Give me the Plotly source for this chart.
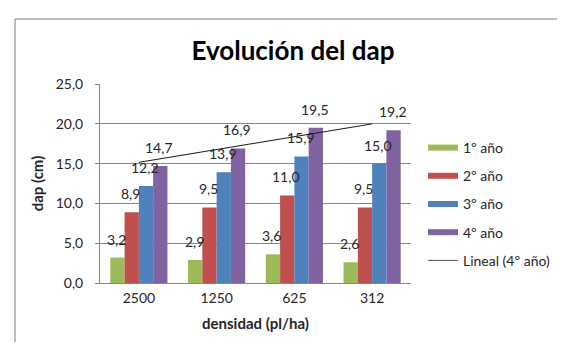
import numpy as np
import plotly.graph_objects as go

categories = ["2500", "1250", "625", "312"]
series_names = ["1º año", "2º año", "3º año", "4º año"]
year1 = [3.2, 2.9, 3.6, 2.6]
year2 = [8.9, 9.5, 11.0, 9.5]
year3 = [12.2, 13.9, 15.9, 15.0]
year4 = [14.7, 16.9, 19.5, 19.2]
y_ticks = [0, 5, 10, 15, 20, 25]
colors = ["#9BBB59", "#C0504D", "#4F81BD", "#8064A2"]

W, H = 565, 342
ML, MR, MT, MB = 92, 162, 76, 67
plot_w = W - ML - MR
plot_h = H - MT - MB
BARGAP = 0.265

FONT = "Lato, 'Open Sans', sans-serif"
TXT = "#262626"

all_series = [year1, year2, year3, year4]
fig = go.Figure()

for name, vals, col in zip(series_names, all_series, colors):
    fig.add_trace(go.Bar(x=categories, y=vals, name=name, marker=dict(color=col, line=dict(width=0)),
                         showlegend=False, hoverinfo="y"))

# linear trend of 4th year
xi = np.arange(1, len(categories) + 1)
slope, intercept = np.polyfit(xi, year4, 1)
trend = slope * xi + intercept
fig.add_trace(go.Scatter(x=[categories[0], categories[-1]], y=[trend[0], trend[-1]], mode="lines",
                         line=dict(color="#1a1a1a", width=1), showlegend=False, hoverinfo="skip"))

# legend-only entries
for i, (name, col) in enumerate(zip(series_names, colors)):
    fig.add_trace(go.Scatter(x=[categories[0]], y=[None], mode="lines", name=name,
                             line=dict(color=col, width=6), legendgroup=f"g{i}"))
fig.add_trace(go.Scatter(x=[categories[0]], y=[None], mode="lines", name="Lineal (4º año)",
                         line=dict(color="#555555", width=1), legendgroup="g4"))

# data labels
cat_w = plot_w / len(categories)
bar_w = (1 - BARGAP) * cat_w / len(all_series)
annotations = []
for si, vals in enumerate(all_series):
    shift = (si - (len(all_series) - 1) / 2) * bar_w
    for ci, v in enumerate(vals):
        annotations.append(dict(x=ci, y=v, xref="x", yref="y", text=f"{v:.1f}".replace(".", ","),
                                showarrow=False, xshift=shift - 1, yshift=8, yanchor="bottom",
                                font=dict(family=FONT, size=14, color=TXT)))

fig.update_layout(
    width=W, height=H,
    margin=dict(l=ML, r=MR, t=MT, b=MB, autoexpand=False),
    paper_bgcolor="white", plot_bgcolor="white",
    barmode="group", bargap=BARGAP, bargroupgap=0,
    separators=",.",
    font=dict(family=FONT, size=14, color=TXT),
    title=dict(text="<b>Evolución del dap</b>", x=285 / W, xref="container", xanchor="center",
               y=1 - 43 / H, yref="container", yanchor="middle",
               font=dict(family=FONT, size=26, color="#000000")),
    xaxis=dict(type="category", categoryorder="array", categoryarray=categories,
               range=[-0.5, len(categories) - 0.5], showgrid=False, showline=True,
               linecolor="#868686", linewidth=1,
               ticks="", ticklabelstandoff=2, tickfont=dict(family=FONT, size=14, color=TXT),
               title=dict(text="<b>densidad (pl/ha)</b>", standoff=13,
                          font=dict(family=FONT, size=15, color=TXT))),
    yaxis=dict(range=[0, 25], tickvals=y_ticks, tickformat=".1f", showgrid=True, gridcolor="#868686",
               gridwidth=1, showline=True, linecolor="#868686", linewidth=1, ticks="outside",
               ticklen=4, tickcolor="#868686", ticklabelstandoff=9, zeroline=False,
               tickfont=dict(family=FONT, size=14, color=TXT),
               title=dict(text="<b>dap (cm)</b>", standoff=8,
                          font=dict(family=FONT, size=15, color=TXT))),
    legend=dict(x=(415 - ML) / plot_w, y=(H - MB - 124) / plot_h, xanchor="left", yanchor="top",
                bgcolor="rgba(255,255,255,0)", tracegroupgap=7, traceorder="grouped",
                font=dict(family=FONT, size=14, color=TXT), itemwidth=30),
    annotations=annotations,
    shapes=[dict(type="rect", xref="paper", yref="paper",
                 x0=(7 - ML) / plot_w, x1=(575 - ML) / plot_w,
                 y0=-(340 - (H - MB)) / plot_h, y1=(H - MB - 11) / plot_h,
                 line=dict(color="#7f7f7f", width=1), fillcolor="rgba(0,0,0,0)", layer="below")],
)

fig.write_html("out.html")
